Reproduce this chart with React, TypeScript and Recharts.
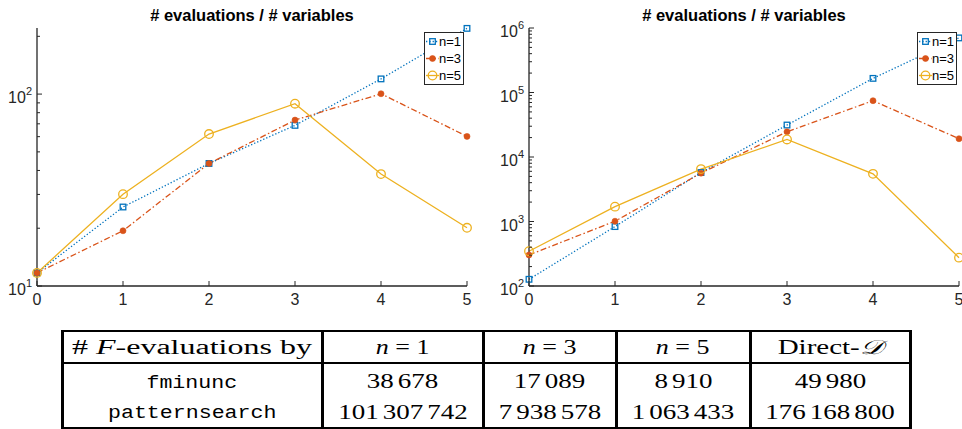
import React from 'react';
import { LineChart, Line, XAxis, YAxis, Legend } from 'recharts';

// x positions shared by both panels
const steps = [0, 1, 2, 3, 4, 5];

// left panel: # evaluations / # variables (log axis 10..~220)
const perVarN1 = [11.7, 25.8, 43.5, 68.7, 120, 220];
const perVarN3 = [11.7, 19.4, 43.5, 73.2, 100.4, 60.2];
const perVarN5 = [11.7, 30.1, 61.9, 89.1, 38.3, 20.1];

// right panel: same title, log axis 1e2..1e6
const totalN1 = [127, 834, 5740, 31300, 165600, 702000];
const totalN3 = [303, 1010, 5620, 24600, 74600, 19200];
const totalN5 = [346, 1700, 6490, 18700, 5480, 275];

const xTicks = [0, 1, 2, 3, 4, 5];
const leftYTicks = [10, 20, 30, 40, 50, 60, 70, 80, 90, 100, 200];
const rightYTicks = [
  100, 200, 300, 400, 500, 600, 700, 800, 900,
  1000, 2000, 3000, 4000, 5000, 6000, 7000, 8000, 9000,
  10000, 20000, 30000, 40000, 50000, 60000, 70000, 80000, 90000,
  100000, 200000, 300000, 400000, 500000, 600000, 700000, 800000, 900000,
  1000000,
];

const seriesNames = ['n=1', 'n=3', 'n=5'];

// table below the plots
const solverNames = ['fminunc', 'patternsearch'];
const fminuncEvals = [38678, 17089, 8910, 49980];
const patternsearchEvals = [101307742, 7938578, 1063433, 176168800];

const AXIS = '#262626';
const FONT = "'Liberation Sans', Arial, Helvetica, sans-serif";

const seriesStyle = [
  { key: 'n1', color: '#0072BD', dash: '1.3 2', marker: 'square' },
  { key: 'n3', color: '#D95319', dash: '6 2.5 1.5 2.5', marker: 'dot' },
  { key: 'n5', color: '#EDB120', dash: undefined, marker: 'circle' },
];

function marker(kind: string, color: string, cx: number, cy: number, k?: any) {
  if (kind === 'square')
    return <rect key={k} x={cx - 2.8} y={cy - 2.8} width={5.6} height={5.6} fill="none" stroke={color} strokeWidth={1.3} />;
  if (kind === 'dot') return <circle key={k} cx={cx} cy={cy} r={3} fill={color} stroke={color} strokeWidth={0.6} />;
  return <circle key={k} cx={cx} cy={cy} r={4.3} fill="none" stroke={color} strokeWidth={1.3} />;
}

const isDecade = (v: number) => Math.abs(Math.log10(v) - Math.round(Math.log10(v))) < 1e-9;

const XTick = (props: any) => {
  const { x, y, payload } = props;
  return (
    <g>
      <line x1={x} y1={y} x2={x} y2={y - 5} stroke={AXIS} strokeWidth={1} />
      <text x={x} y={y + 19} textAnchor="middle" fontSize={16} fill={AXIS} fontFamily={FONT}>
        {payload.value}
      </text>
    </g>
  );
};

const YTick = (props: any) => {
  const { x, y, payload } = props;
  const major = isDecade(payload.value);
  return (
    <g>
      <line x1={x} y1={y} x2={x + (major ? 5 : 3)} y2={y} stroke={AXIS} strokeWidth={1} />
      {major && (
        <text x={x - 5} y={y + 9} textAnchor="end" fontSize={16} fill={AXIS} fontFamily={FONT}>
          10
          <tspan fontSize={11} dy={-8}>
            {Math.round(Math.log10(payload.value))}
          </tspan>
        </text>
      )}
    </g>
  );
};

const LegendBox = () => (
  <div
    style={{
      border: `1px solid ${AXIS}`,
      background: '#fff',
      padding: '0 2px 0 1px',
      fontFamily: FONT,
      fontSize: 13,
      lineHeight: '17px',
      color: '#000',
    }}
  >
    {seriesStyle.map((s, i) => (
      <div key={s.key} style={{ display: 'flex', alignItems: 'center', whiteSpace: 'nowrap' }}>
        <svg width={13} height={17} style={{ display: 'block' }}>
          <line x1={0} y1={8.5} x2={13} y2={8.5} stroke={s.color} strokeWidth={1.3} strokeDasharray={s.dash} />
          {marker(s.marker, s.color, 6.5, 8.5)}
        </svg>
        <span>{seriesNames[i]}</span>
      </div>
    ))}
  </div>
);

type PanelProps = {
  n1: number[];
  n3: number[];
  n5: number[];
  domain: [number, number];
  yTicks: number[];
  width: number;
  yAxisWidth: number;
  marginRight: number;
  legendLeft: number;
};

function EvalPanel({ n1, n3, n5, domain, yTicks, width, yAxisWidth, marginRight, legendLeft }: PanelProps) {
  const data = steps.map((s, i) => ({ step: s, n1: n1[i], n3: n3[i], n5: n5[i] }));
  const titleX = yAxisWidth + (width - yAxisWidth - marginRight) / 2;
  return (
    <LineChart width={width} height={310} data={data} margin={{ top: 28, right: marginRight, bottom: 0, left: 0 }}>
      <text x={titleX} y={20.5} textAnchor="middle" fontWeight="bold" fontSize={16.5} fontFamily={FONT} fill="#000">
        # evaluations / # variables
      </text>
      <XAxis
        dataKey="step"
        type="number"
        domain={[0, 5]}
        ticks={xTicks}
        interval={0}
        height={24}
        axisLine={{ stroke: AXIS, strokeWidth: 1.3 }}
        tickLine={false}
        tickSize={0}
        tickMargin={0}
        tick={<XTick />}
      />
      <YAxis
        type="number"
        scale="log"
        domain={domain}
        ticks={yTicks}
        interval={0}
        width={yAxisWidth}
        axisLine={{ stroke: AXIS, strokeWidth: 1.3 }}
        tickLine={false}
        tickSize={0}
        tickMargin={0}
        tick={<YTick />}
      />
      <Legend
        layout="vertical"
        align="center"
        verticalAlign="middle"
        content={<LegendBox />}
        wrapperStyle={{ left: legendLeft, top: 32, width: 'auto', height: 'auto' }}
      />
      {seriesStyle.map((s) => (
        <Line
          key={s.key}
          dataKey={s.key}
          stroke={s.color}
          strokeWidth={1.3}
          strokeDasharray={s.dash}
          isAnimationActive={false}
          activeDot={false}
          dot={(p: any) => marker(s.marker, s.color, p.cx, p.cy, `${s.key}-${p.index}`)}
        />
      ))}
    </LineChart>
  );
}

// digit groups separated by a narrow space, like LaTeX's \, grouping
const groupDigits = (v: number) => {
  const groups = String(v).replace(/\B(?=(\d{3})+(?!\d))/g, ',').split(',');
  return groups.map((g, i) => (
    <React.Fragment key={i}>
      {i > 0 && <span style={{ fontSize: 12 }}> </span>}
      {g}
    </React.Fragment>
  ));
};

const SERIF = "'Liberation Serif', 'Times New Roman', serif";
const MONO = "'Liberation Mono', 'DejaVu Sans Mono', monospace";
const colWidths = [256.5, 161, 133, 134, 160.5];

const Stretch = ({ children, sx = 1.35, style }: any) => (
  <span style={{ display: 'inline-block', transform: `scaleX(${sx})`, whiteSpace: 'nowrap', ...style }}>{children}</span>
);

function EvalTable() {
  const headers = [
    <Stretch sx={1.6}>
      # <i>F</i>-evaluations by
    </Stretch>,
    <Stretch sx={1.3}>
      <i>n</i> = 1
    </Stretch>,
    <Stretch sx={1.3}>
      <i>n</i> = 3
    </Stretch>,
    <Stretch sx={1.3}>
      <i>n</i> = 5
    </Stretch>,
    <Stretch sx={1.45}>
      Direct-<span style={{ fontStyle: 'italic' }}>𝒟</span>
    </Stretch>,
  ];
  const rows = [fminuncEvals, patternsearchEvals];
  return (
    <div
      style={{
        position: 'absolute',
        left: 61,
        top: 330,
        width: 851,
        height: 99,
        boxSizing: 'border-box',
        borderLeft: '3px solid #000',
        borderRight: '3px solid #000',
        borderTop: '2px solid #000',
        borderBottom: '2px solid #000',
        display: 'grid',
        gridTemplateColumns: colWidths.map((w) => `${w}px`).join(' '),
        gridTemplateRows: '32px 63px',
        fontFamily: SERIF,
        fontSize: 20,
        color: '#000',
      }}
    >
      {headers.map((h, c) => (
        <div
          key={`h${c}`}
          style={{
            boxSizing: 'border-box',
            borderLeft: c > 0 ? '3px solid #000' : undefined,
            borderBottom: '2px solid #000',
            textAlign: 'center',
            lineHeight: '30px',
          }}
        >
          {h}
        </div>
      ))}
      {headers.map((_, c) => (
        <div
          key={`b${c}`}
          style={{
            boxSizing: 'border-box',
            borderLeft: c > 0 ? '3px solid #000' : undefined,
            textAlign: 'center',
            lineHeight: '28px',
            paddingTop: 3,
          }}
        >
          {c === 0
            ? solverNames.map((n) => (
                <div key={n}>
                  <Stretch sx={1.2} style={{ fontFamily: MONO, fontSize: 18 }}>
                    {n}
                  </Stretch>
                </div>
              ))
            : rows.map((r, i) => (
                <div key={i}>
                  <Stretch>{groupDigits(r[c - 1])}</Stretch>
                </div>
              ))}
        </div>
      ))}
    </div>
  );
}

export default function App() {
  return (
    <div style={{ position: 'absolute', left: 0, top: 0, width: 962, height: 429, background: '#fff', overflow: 'hidden' }}>
      <div style={{ position: 'absolute', left: 0, top: 0 }}>
        <EvalPanel
          n1={perVarN1}
          n3={perVarN3}
          n5={perVarN5}
          domain={[10, 221]}
          yTicks={leftYTicks}
          width={480}
          yAxisWidth={37}
          marginRight={13}
          legendLeft={424}
        />
      </div>
      <div style={{ position: 'absolute', left: 480, top: 0 }}>
        <EvalPanel
          n1={totalN1}
          n3={totalN3}
          n5={totalN5}
          domain={[100, 1000000]}
          yTicks={rightYTicks}
          width={482}
          yAxisWidth={49}
          marginRight={3}
          legendLeft={437}
        />
      </div>
      <EvalTable />
    </div>
  );
}
